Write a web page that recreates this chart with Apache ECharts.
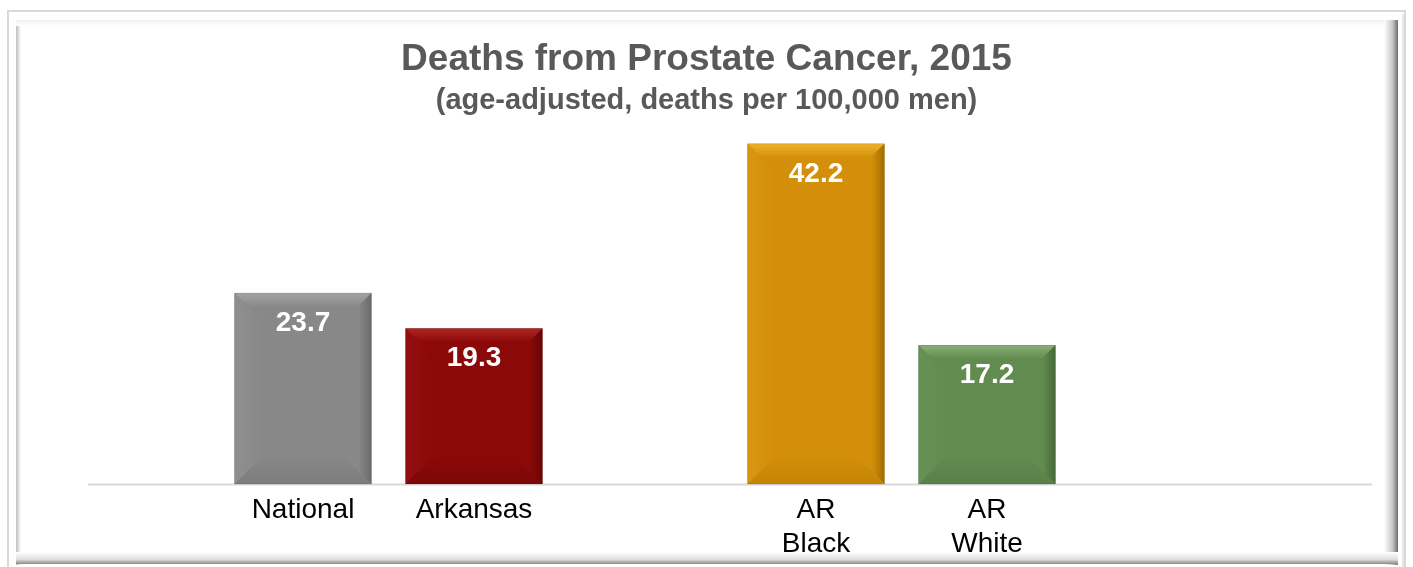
<!DOCTYPE html>
<html>
<head>
<meta charset="utf-8">
<script src="https://cdn.jsdelivr.net/npm/echarts@6/dist/echarts.min.js"></script>
<style>
html,body{margin:0;padding:0;background:#fff;}
#chart{width:1413px;height:567px;}
</style>
</head>
<body>
<div id="chart"></div>
<script>
const titleText = 'Deaths from Prostate Cancer, 2015';
const subtitleText = '(age-adjusted, deaths per 100,000 men)';
const categories = ['National', 'Arkansas', '', 'AR\nBlack', 'AR\nWhite'];
const values = [23.7, 19.3, null, 42.2, 17.2];

// bevel palettes: face, top, left, right, bottom
const palettes = [
  ['#888888', '#a4a4a4', '#8f8f8f', '#6a6a6a', '#7c7c7c'],
  ['#8c0909', '#b02424', '#940f0f', '#680505', '#7c0707'],
  ['#d38f0a', '#f0b22c', '#d99612', '#a36c00', '#c48406'],
  ['#628b50', '#88ae74', '#679154', '#47683a', '#5a8049']
];

const chart = echarts.init(document.getElementById('chart'), null, {renderer: 'canvas'});

const seriesData = [];
values.forEach((v, i) => { if (v !== null) seriesData.push([i, v]); });

function renderItem(params, api) {
  const i = api.value(0), v = api.value(1);
  const top = api.coord([i, v]);
  const base = api.coord([i, 0]);
  const w = api.size([1, 0])[0] * 0.8;
  const x0 = top[0] - w / 2, x1 = top[0] + w / 2, y0 = top[1], y1 = base[1];
  const d = Math.min(28, (y1 - y0) / 2);
  const p = palettes[params.dataIndex];
  return {
    type: 'group',
    children: [
      {type: 'rect', shape: {x: x0, y: y0, width: w, height: y1 - y0}, style: {fill: p[0]}},
      {type: 'polygon', shape: {points: [[x0, y0], [x1, y0], [x1 - d, y0 + d], [x0 + d, y0 + d]]},
        style: {fill: new echarts.graphic.LinearGradient(0, 0, 0, 1, [{offset: 0, color: p[1]}, {offset: 0.5, color: p[0]}, {offset: 1, color: p[0]}])}},
      {type: 'polygon', shape: {points: [[x0, y0], [x0 + d, y0 + d], [x0 + d, y1 - d], [x0, y1]]},
        style: {fill: new echarts.graphic.LinearGradient(0, 0, 1, 0, [{offset: 0, color: p[2]}, {offset: 1, color: p[0]}])}},
      {type: 'polygon', shape: {points: [[x1, y0], [x1, y1], [x1 - d, y1 - d], [x1 - d, y0 + d]]},
        style: {fill: new echarts.graphic.LinearGradient(1, 0, 0, 0, [{offset: 0, color: p[3]}, {offset: 0.45, color: p[0]}, {offset: 1, color: p[0]}])}},
      {type: 'polygon', shape: {points: [[x0, y1], [x0 + d, y1 - d], [x1 - d, y1 - d], [x1, y1]]},
        style: {fill: new echarts.graphic.LinearGradient(0, 1, 0, 0, [{offset: 0, color: p[4]}, {offset: 1, color: p[0]}])}},
      {type: 'rect', shape: {x: x0, y: y0, width: w, height: y1 - y0}, style: {fill: 'none', stroke: 'rgba(0,0,0,0.10)', lineWidth: 1}},
      {type: 'text', style: {x: top[0], y: y0 + 30, text: v.toFixed(1), fill: '#ffffff',
        font: 'bold 28px "Liberation Sans", Arial, sans-serif', align: 'center', verticalAlign: 'middle'}}
    ]
  };
}

const option = {
  backgroundColor: '#ffffff',
  animation: false,
  title: [
    {text: titleText, left: 'center', top: 34,
      textStyle: {fontFamily: '"Liberation Sans", Arial, sans-serif', fontSize: 37, fontWeight: 'bold', color: '#595959', lineHeight: 42}},
    {text: subtitleText, left: 'center', top: 80,
      textStyle: {fontFamily: '"Liberation Sans", Arial, sans-serif', fontSize: 29, fontWeight: 'bold', color: '#595959', lineHeight: 32}}
  ],
  grid: {left: 217.5, right: 340.5, top: 81, bottom: 83},
  xAxis: {
    type: 'category', data: categories,
    axisLine: {show: false}, axisTick: {show: false}, splitLine: {show: false},
    axisLabel: {fontFamily: '"Liberation Sans", Arial, sans-serif', fontSize: 28, color: '#000000', lineHeight: 34, margin: 9, interval: 0}
  },
  yAxis: {type: 'value', min: 0, max: 50, show: false, splitLine: {show: false}},
  graphic: [
    {type: 'rect', z: -10, shape: {x: 8, y: 11, width: 1397, height: 570}, style: {fill: '#ffffff', stroke: '#d9d9d9', lineWidth: 2}},
    {type: 'rect', z: -9, shape: {x: 16, y: 20, width: 5, height: 545},
      style: {fill: new echarts.graphic.LinearGradient(0, 0, 1, 0, [{offset: 0, color: '#bdbdbd'}, {offset: 1, color: '#ffffff'}])}},
    {type: 'rect', z: -9, shape: {x: 16, y: 20, width: 1382, height: 6},
      style: {fill: new echarts.graphic.LinearGradient(0, 0, 0, 1, [{offset: 0, color: '#f0f0f0'}, {offset: 1, color: '#ffffff'}])}},
    {type: 'rect', z: -9, shape: {x: 1384, y: 20, width: 14, height: 545},
      style: {fill: new echarts.graphic.LinearGradient(0, 0, 1, 0, [{offset: 0, color: '#ffffff'}, {offset: 0.6, color: '#c8c8c8'}, {offset: 1, color: '#6e6e6e'}])}},
    {type: 'rect', z: -9, shape: {x: 16, y: 552, width: 1382, height: 12},
      style: {fill: new echarts.graphic.LinearGradient(0, 0, 0, 1, [{offset: 0, color: '#ffffff'}, {offset: 0.6, color: '#e0e0e0'}, {offset: 1, color: '#8a8a8a'}])}},
    {type: 'line', z: -9, shape: {x1: 1403, y1: 14, x2: 1403, y2: 567}, style: {stroke: '#cfcfcf', lineWidth: 1}},
    {type: 'line', z: 5, shape: {x1: 88, y1: 484.5, x2: 1372, y2: 484.5}, style: {stroke: '#d9d9d9', lineWidth: 2}}
  ],
  series: [{
    type: 'custom',
    renderItem: renderItem,
    encode: {x: 0, y: 1},
    data: seriesData,
    z: 10
  }]
};
chart.setOption(option);
</script>
</body>
</html>
